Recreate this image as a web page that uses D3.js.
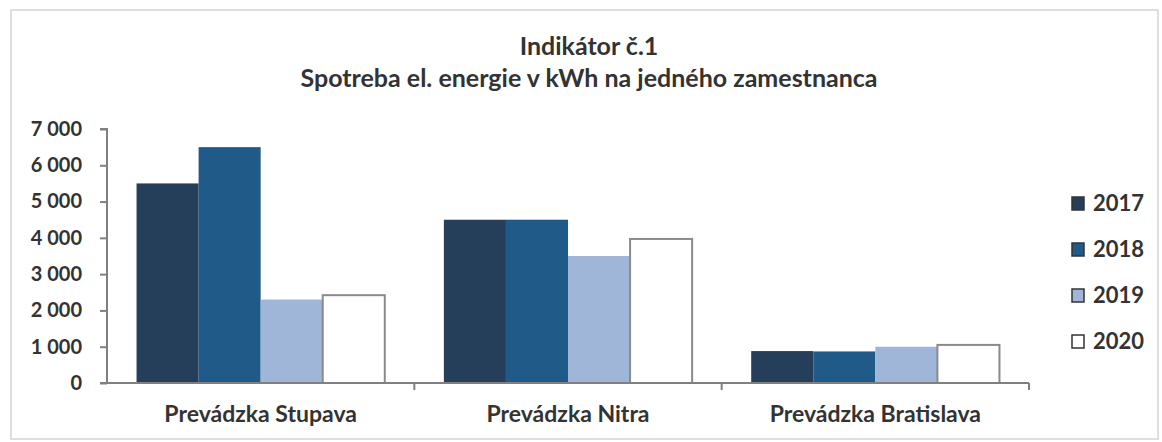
<!DOCTYPE html>
<html>
<head>
<meta charset="utf-8">
<script src="https://cdn.jsdelivr.net/npm/d3@7"></script>
<style>
  body { margin: 0; background: #fff; }
  text { font-family: Lato, "Open Sans", sans-serif; font-weight: bold; fill: #333; }
</style>
</head>
<body>
<svg id="chart" width="1162" height="442"></svg>
<script>
// data
const categories = ["Prevádzka Stupava", "Prevádzka Nitra", "Prevádzka Bratislava"];
const years = ["2017", "2018", "2019", "2020"];
const values2017 = [5500, 4500, 880];
const values2018 = [6500, 4500, 870];
const values2019 = [2300, 3500, 1000];
const values2020 = [2420, 3970, 1050];
const yTicks = [0, 1000, 2000, 3000, 4000, 5000, 6000, 7000];
const titleLines = ["Indikátor č.1", "Spotreba el. energie v kWh na jedného zamestnanca"];

const series = [values2017, values2018, values2019, values2020];
const fills = ["#253f5b", "#205a88", "#9fb6d9", "#ffffff"];
const strokes = ["none", "none", "none", "#8a8a8a"];

const svg = d3.select("#chart");

// outer frame
svg.append("rect")
  .attr("x", 11).attr("y", 10)
  .attr("width", 1147).attr("height", 429)
  .attr("fill", "none")
  .attr("stroke", "#d4d4d4")
  .attr("stroke-width", 1.5);

const plotLeft = 107, plotRight = 1029, plotTop = 129, plotBottom = 383;

const x0 = d3.scaleBand().domain(categories).range([plotLeft, plotRight]).paddingInner(0).paddingOuter(0);
const x1 = d3.scaleBand().domain(years).range([0, x0.bandwidth()]).paddingOuter(0.476).paddingInner(0);
const y = d3.scaleLinear().domain([0, 7000]).range([plotBottom, plotTop]);

// title
svg.append("text")
  .attr("x", 589).attr("y", 55)
  .attr("text-anchor", "middle")
  .style("font-size", "25px")
  .text(titleLines[0]);
svg.append("text")
  .attr("x", 589).attr("y", 87)
  .attr("text-anchor", "middle")
  .style("font-size", "25px")
  .text(titleLines[1]);

// bars
const groups = svg.append("g").selectAll("g")
  .data(categories)
  .join("g")
  .attr("transform", d => `translate(${x0(d)},0)`);

groups.selectAll("rect")
  .data((c, i) => years.map((yr, j) => ({ yr: yr, j: j, v: series[j][i] })))
  .join("rect")
  .attr("x", d => x1(d.yr))
  .attr("y", d => y(d.v))
  .attr("width", x1.bandwidth())
  .attr("height", d => plotBottom - y(d.v))
  .attr("fill", d => fills[d.j])
  .attr("stroke", d => strokes[d.j])
  .attr("stroke-width", 2);

// y axis
const yAxis = svg.append("g")
  .attr("transform", `translate(${plotLeft},0)`)
  .call(d3.axisLeft(y).tickValues(yTicks).tickSize(7).tickPadding(18)
    .tickFormat(d => d3.format(",")(d).replace(/,/g, " ")));
yAxis.selectAll("line, path").attr("stroke", "#808080").attr("stroke-width", 2);
yAxis.select(".domain").attr("d", `M-7,${plotTop}H0V${plotBottom}`);
yAxis.selectAll("text").style("font-size", "20px").attr("fill", "#333");

// x axis
const xAxis = svg.append("g")
  .attr("transform", `translate(0,${plotBottom})`)
  .call(d3.axisBottom(x0).tickSize(0).tickPadding(23));
xAxis.select(".domain").attr("stroke", "#808080").attr("stroke-width", 2)
  .attr("d", `M${plotLeft - 7},0H${plotRight}`);
xAxis.selectAll("text").style("font-size", "23px").attr("fill", "#333");
xAxis.selectAll(".sep")
  .data(categories)
  .join("line")
  .attr("class", "sep")
  .attr("x1", d => x0(d) + x0.bandwidth()).attr("x2", d => x0(d) + x0.bandwidth())
  .attr("y1", 0).attr("y2", 7)
  .attr("stroke", "#808080").attr("stroke-width", 2);

// legend
const legend = svg.append("g").selectAll("g")
  .data(years)
  .join("g")
  .attr("transform", (d, i) => `translate(1072,${203 + i * 46})`);
legend.append("rect")
  .attr("x", 0).attr("y", -6)
  .attr("width", 12).attr("height", 13)
  .attr("fill", (d, i) => fills[i])
  .attr("stroke", "#333").attr("stroke-width", 1.5);
legend.append("text")
  .attr("x", 21).attr("y", 0).attr("dy", "0.35em")
  .style("font-size", "22px")
  .text(d => d);
</script>
</body>
</html>
